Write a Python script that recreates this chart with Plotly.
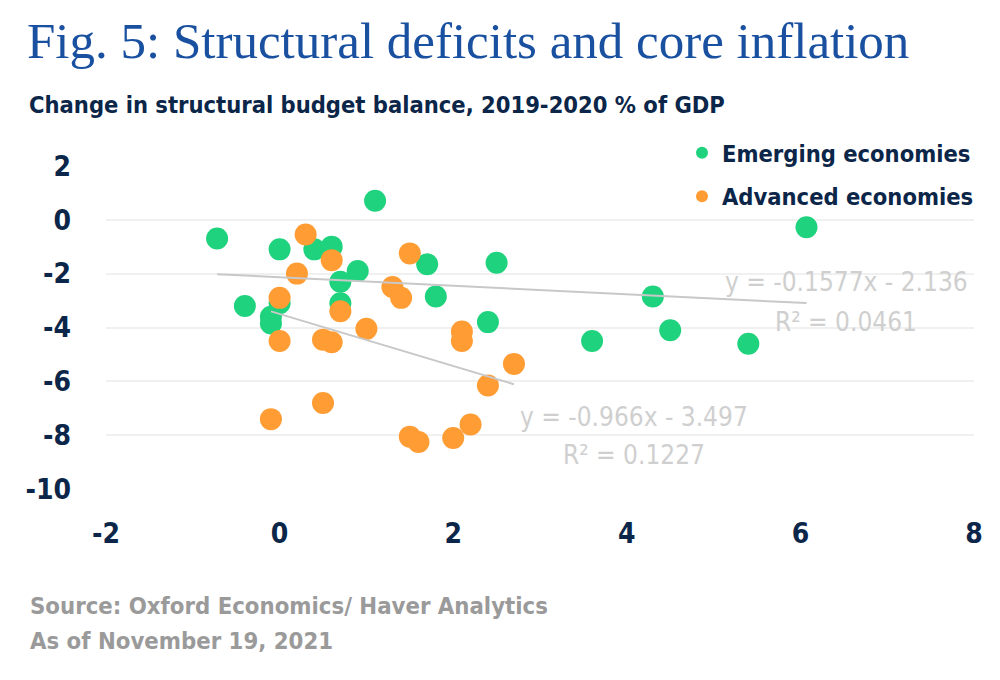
import plotly.graph_objects as go

# Emerging economies (x, y)
em_x = [1.1, -0.72, 0.0, 0.4, 0.6, 1.7, 2.5, 0.9, 0.7, 1.8, -0.4, 0.0, 0.7, -0.1, -0.1, 2.4,
        4.3, 3.6, 4.5, 5.4, 6.07]
em_y = [0.7, -0.7, -1.1, -1.1, -1.0, -1.65, -1.6, -1.9, -2.3, -2.85, -3.2, -3.1, -3.1, -3.6, -3.85, -3.8,
        -2.85, -4.5, -4.1, -4.6, -0.28]

# Advanced economies
adv_x = [0.3, 0.6, 1.5, 0.2, 1.3, 1.4, 0.0, 0.7, 1.0, 2.1, 2.1, 0.0, 0.5, 0.6, 2.7, 2.4,
         0.5, -0.1, 2.2, 1.5, 1.6, 2.0]
adv_y = [-0.55, -1.5, -1.25, -2.0, -2.5, -2.9, -2.9, -3.4, -4.05, -4.15, -4.5, -4.5, -4.45, -4.55, -5.35, -6.15,
         -6.8, -7.4, -7.6, -8.05, -8.25, -8.1]

# trend lines as printed on the chart
em_fit = (-0.1577, -2.136, 0.0461)
adv_fit = (-0.966, -3.497, 0.1227)

x_ticks = [-2, 0, 2, 4, 6, 8]
y_ticks = [2, 0, -2, -4, -6, -8, -10]

GREEN = "#1fd27d"
ORANGE = "#ff9c33"
NAVY = "#0b2649"
BLUE = "#1a50a0"
LIGHT = "#cfcfcf"
COND = "DejaVu Sans Condensed, DejaVu Sans, sans-serif"


def trend(xs, fit):
    lo, hi = min(xs), max(xs)
    return [lo, hi], [fit[0] * lo + fit[1], fit[0] * hi + fit[1]]


fig = go.Figure()
fig.add_trace(go.Scatter(x=em_x, y=em_y, mode="markers", name="Emerging economies", legendgroup="em",
                         marker=dict(color=GREEN, size=22, line=dict(width=0))))
fig.add_trace(go.Scatter(x=adv_x, y=adv_y, mode="markers", name="Advanced economies", legendgroup="adv",
                         marker=dict(color=ORANGE, size=22, line=dict(width=0))))
for xs, fit in [(em_x, em_fit), (adv_x, adv_fit)]:
    lx, ly = trend(xs, fit)
    fig.add_trace(go.Scatter(x=lx, y=ly, mode="lines", showlegend=False,
                             line=dict(color="#c8c8c8", width=2), hoverinfo="skip"))

# px -> paper helpers (plot area 106..974 x 165..490)
def py(p):
    return (490 - p) / 325


def px(p):
    return (p - 106) / 868


texts = [
    dict(text="Fig. 5: Structural deficits and core inflation", x=px(25), y=py(41), xanchor="left",
         font=dict(family="Liberation Serif, serif", size=51, color=BLUE)),
    dict(text="Change in structural budget balance, 2019-2020 % of GDP", x=px(27), y=py(105),
         xanchor="left", font=dict(family=COND, size=23.5, color=NAVY, weight="bold")),
    dict(text="Source: Oxford Economics/ Haver Analytics", x=px(28), y=py(606), xanchor="left",
         font=dict(family=COND, size=23.7, color="#9a9a9a", weight="bold")),
    dict(text="As of November 19, 2021", x=px(28), y=py(641), xanchor="left",
         font=dict(family=COND, size=23.7, color="#9a9a9a", weight="bold")),
    dict(text="y = %.4fx - %.3f" % (em_fit[0], -em_fit[1]), x=px(846), y=py(282), xanchor="center",
         font=dict(family=COND, size=26, color=LIGHT)),
    dict(text="R² = %.4f" % em_fit[2], x=px(846), y=py(322), xanchor="center",
         font=dict(family=COND, size=26, color=LIGHT)),
    dict(text="y = %.3fx - %.3f" % (adv_fit[0], -adv_fit[1]), x=px(634), y=py(417), xanchor="center",
         font=dict(family=COND, size=26, color=LIGHT)),
    dict(text="R² = %.4f" % adv_fit[2], x=px(634), y=py(455), xanchor="center",
         font=dict(family=COND, size=26, color=LIGHT)),
]
for t in texts:
    fig.add_annotation(xref="paper", yref="paper", yanchor="middle", showarrow=False, **t)

fig.update_layout(
    width=1000, height=680,
    margin=dict(l=106, r=26, t=165, b=190, autoexpand=False),
    paper_bgcolor="white", plot_bgcolor="white",
    showlegend=True,
    legend=dict(x=px(682), y=py(131), xanchor="left", yanchor="top",
                font=dict(family=COND, size=23.5, color=NAVY, weight="bold"), bgcolor="rgba(0,0,0,0)",
                itemsizing="constant", tracegroupgap=10),
    xaxis=dict(range=[-2, 8], tickvals=x_ticks, ticktext=[str(v) for v in x_ticks],
               showgrid=False, zeroline=False, showline=False, ticks="", ticklabelstandoff=24,
               tickfont=dict(family=COND, size=28, color=NAVY, weight="bold")),
    yaxis=dict(range=[-10.03, 2.03], tickvals=y_ticks, ticktext=[str(v) for v in y_ticks],
               showgrid=True, gridcolor="#f0f0f0", gridwidth=2,
               zeroline=False, showline=False, ticks="", ticklabelstandoff=34,
               tickfont=dict(family=COND, size=28, color=NAVY, weight="bold")),
)

# page body margin would shift the 1000x680 figure; drop it
fig.write_html("out.html", config={"displayModeBar": False},
               post_script="document.body.style.margin='0';document.body.style.overflow='hidden';")
